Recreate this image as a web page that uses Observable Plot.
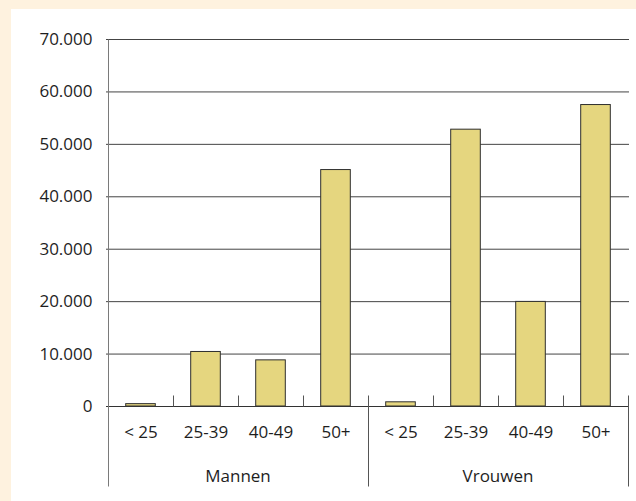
<!DOCTYPE html>
<html>
<head>
<meta charset="utf-8">
<script src="https://cdn.jsdelivr.net/npm/d3@7"></script>
<script src="https://cdn.jsdelivr.net/npm/@observablehq/plot@0.6"></script>
<style>
  html, body { margin: 0; padding: 0; background: #fef2df; width: 636px; height: 501px; overflow: hidden; }
  #wrap { position: absolute; left: 11px; top: 9px; width: 625px; height: 492px; background: #ffffff; }
</style>
</head>
<body>
<div id="wrap"></div>
<script>
const groups = ["Mannen", "Vrouwen"];
const ages = ["< 25", "25-39", "40-49", "50+"];
const mannen = [450, 10400, 8800, 45100];
const vrouwen = [800, 52800, 19950, 57500];
const yTicks = [0, 10000, 20000, 30000, 40000, 50000, 60000, 70000];

const data = groups.flatMap((g, gi) => ages.map((a, i) => ({
  group: g, age: a, key: g + "|" + a, value: (gi === 0 ? mannen : vrouwen)[i]
})));
const keys = data.map(d => d.key);

const fmt = d => d3.format(",")(d).replace(/,/g, ".");

function separators(index, scales) {
  const x = scales.x, y = scales.y;
  const step = x(keys[1]) - x(keys[0]);
  const y0 = Math.round(y(0)) + 0.5;
  const yTop = Math.round(y(70000)) + 0.5;
  const bottom = y0 + 80;
  const g = d3.create("svg:g");
  for (let i = 0; i <= keys.length; i++) {
    const xp = Math.round(i < keys.length ? x(keys[i]) : x(keys[keys.length - 1]) + step) + 0.5;
    let y1 = y0 - 11, y2 = y0;
    if (i % ages.length === 0) { y2 = bottom; }
    if (i === 0) { y1 = yTop; }
    g.append("line").attr("x1", xp).attr("x2", xp).attr("y1", y1).attr("y2", y2)
      .attr("stroke", i === 0 ? "#7a7a7a" : "#555").attr("stroke-width", 1);
  }
  groups.forEach((gname, gi) => {
    const xc = x(keys[gi * ages.length + 2]);
    g.append("text").attr("x", xc).attr("y", y0 + 69).attr("text-anchor", "middle")
      .attr("dominant-baseline", "central").attr("fill", "#1e1e1e").text(gname);
  });
  return g.node();
}

const chart = Plot.plot({
  width: 625,
  height: 492,
  marginLeft: 95,
  marginRight: 7,
  marginTop: 30,
  marginBottom: 95,
  style: { fontFamily: "'Open Sans', sans-serif", fontSize: "17px", color: "#1e1e1e", background: "#ffffff", overflow: "visible" },
  x: { type: "band", domain: keys, padding: 0, axis: null, label: null },
  y: { domain: [0, 70000], axis: null, label: null },
  marks: [
    Plot.gridY(yTicks, { stroke: "#444", strokeOpacity: 1, strokeWidth: 1 }),
    Plot.axisY(yTicks, { tickSize: 0, tickPadding: 14, tickFormat: fmt, fontSize: 17, fill: "#1e1e1e", label: null }),
    Plot.barY(data, { x: "key", y: "value", fill: "#e5d67f", stroke: "#2e2e2e", strokeWidth: 1, insetLeft: 17.7, insetRight: 17.7 }),
    Plot.ruleY([0], { stroke: "#333" }),
    Plot.axisX({ tickSize: 0, tickPadding: 19, tickFormat: k => k.split("|")[1], fontSize: 17, fill: "#1e1e1e", label: null }),
    separators
  ]
});
document.getElementById("wrap").appendChild(chart);
</script>
</body>
</html>
